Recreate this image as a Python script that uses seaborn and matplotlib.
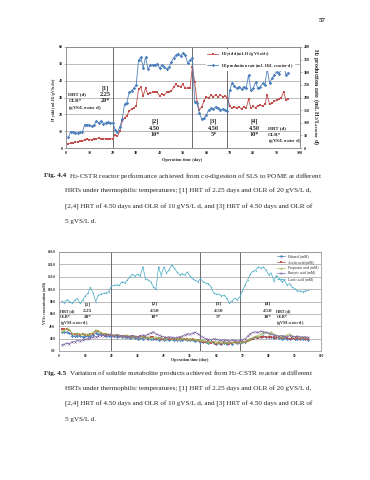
import numpy as np
import pandas as pd
import seaborn as sns
import matplotlib.pyplot as plt
from matplotlib.ticker import FormatStrFormatter

# operation days (one sample per day)
days = list(range(1, 96))

# Fig 4.4 - H2 yield (left axis) and H2 production rate (right axis)
h2_yield = [2.5, 3, 3, 3.5, 3.5, 4, 4, 5, 5.5, 5,
            5, 5.5, 5.5, 6, 5.5, 5.5, 5.5, 5.5, 5.5, 5.5,
            8, 7, 10, 16, 18, 19, 22, 23, 24, 25,
            35, 36, 31, 35.5, 32, 32.5, 33, 33, 33, 31,
            32, 31.5, 33, 33, 34, 36, 37.8, 36.8, 36.5, 37.8,
            35.4, 35.7, 35.7, 48.2,
            39, 27.6, 22.6, 24.6, 28.1, 30.5, 29.5, 31.5, 30.5, 31.5, 30.5, 31.5, 30.5, 30.8, 30.0,
            25, 23.6, 24.6, 23.6, 24.6, 23, 24.6, 23.6, 29, 23.6, 24.8, 23.6, 25.2, 25.5, 24.8, 26,
            31.5, 26, 26.8, 27.8, 28.3, 29, 29.8, 33.5, 28.3, 29]
h2_rate = [42, 65, 63, 60, 60, 63, 63, 93, 93, 90,
           87, 90, 107, 100, 107, 97, 100, 103, 100, 100,
           73, 63, 83, 113, 173, 180, 220, 227, 237, 250,
           347, 360, 317, 360, 313, 327, 330, 330, 333, 317, 327, 320, 313, 320,
           340, 357, 367, 374, 364, 377, 367, 335, 348, 358,
           184, 177, 138, 114, 118, 131, 151, 157, 155, 164, 157, 151, 155, 151, 148,
           230, 258, 245, 236, 243, 232, 243, 236, 289, 230, 236, 262, 236, 243, 256, 249,
           315, 256, 276, 289, 302, 295, 311, 328, 289, 299]

# Fig 4.5 - soluble metabolite products (mM)
ethanol = [30, 31, 30, 29, 25, 24, 25, 24, 23, 24,
           24, 25, 26, 29, 28, 27, 26, 25, 25, 24,
           24, 23, 24, 22, 23, 22, 21, 22, 21, 20,
           21, 20, 22, 19, 20, 19, 20, 18, 19, 18,
           19, 18, 19, 17, 18, 17, 18, 19, 18, 17,
           17, 16, 17, 15, 14, 15, 13, 14, 13, 12,
           13, 12, 13, 12, 13, 12, 14, 13, 13, 14,
           15, 17, 19, 21, 22, 23, 22, 24, 23, 22,
           22, 21, 22, 21, 20, 21, 20, 19, 21, 20,
           20, 19, 20, 19, 18]
acetic = [35, 36, 35, 34, 28, 27, 27, 26, 27, 26,
          26, 27, 28, 32, 33, 29, 27, 27, 26, 26,
          25, 26, 25, 24, 25, 24, 23, 24, 23, 22,
          24, 23, 22, 21, 23, 22, 20, 21, 19, 20,
          21, 20, 19, 20, 19, 21, 20, 19, 20, 18,
          19, 17, 18, 16, 15, 14, 16, 13, 14, 12,
          13, 12, 14, 13, 12, 13, 14, 13, 14, 15,
          14, 16, 18, 20, 22, 21, 23, 22, 23, 22,
          23, 22, 21, 22, 21, 22, 21, 20, 21, 20,
          21, 20, 21, 20, 20]
propionic = [33, 34, 36, 35, 29, 28, 29, 28, 27, 28,
             27, 28, 30, 34, 33, 30, 28, 28, 27, 27,
             26, 27, 26, 24, 25, 26, 24, 23, 24, 23,
             23, 24, 22, 23, 21, 22, 23, 21, 22, 20,
             21, 22, 20, 21, 20, 19, 21, 20, 19, 20,
             20, 19, 18, 17, 17, 16, 15, 16, 15, 15,
             15, 14, 15, 14, 15, 14, 15, 14, 15, 14,
             16, 18, 20, 22, 24, 25, 27, 29, 30, 28,
             31, 27, 25, 24, 23, 24, 26, 28, 24, 23,
             24, 22, 23, 22, 22]
butyric = [10, 11, 13, 12, 15, 15, 17, 16, 18, 19,
           20, 21, 22, 23, 24, 25, 25, 26, 27, 26,
           25, 26, 24, 25, 24, 23, 24, 25, 24, 23,
           24, 26, 25, 27, 29, 31, 28, 26, 24, 23,
           22, 23, 22, 21, 22, 23, 24, 26, 28, 27,
           29, 30, 28, 25, 22, 20, 19, 18, 20, 19,
           18, 17, 18, 17, 16, 18, 17, 16, 17, 18,
           20, 24, 28, 30, 31, 30, 32, 31, 30, 29,
           27, 26, 25, 24, 25, 24, 23, 25, 24, 23,
           24, 23, 22, 23, 22]
lactic = [81, 78, 83, 80, 77, 82, 85, 77, 82, 89,
          93, 103, 94, 80, 90, 92, 93, 94, 96, 105,
          106, 107, 106, 112, 110, 114, 120, 124, 121, 124,
          121, 136, 117, 115, 112, 104, 100, 136, 122, 136,
          126, 131, 139, 134, 128, 123, 125, 123, 128, 121,
          117, 114, 112, 117, 112, 110, 109, 104, 94, 92,
          92, 89, 90, 85, 78, 81, 85, 83, 87, 97,
          106, 115, 124, 129, 130, 136, 134, 136, 131, 123,
          126, 113, 122, 117, 112, 114, 107, 109, 103, 101,
          97, 97, 96, 97, 98]

phase_days = [20, 54, 69]

sns.set_style("white")
plt.rcParams['font.family'] = ['Liberation Serif', 'DejaVu Serif']
plt.rcParams['mathtext.default'] = 'regular'

W, H = 370, 480
fig = plt.figure(figsize=(3.7, 4.8), dpi=100)


def box(x0, y0, x1, y1):
    return [x0 / W, 1 - y1 / H, (x1 - x0) / W, (y1 - y0) / H]


def put(x, y, s, **kw):
    fig.text(x / W, 1 - y / H, s, **kw)


def style_axes(ax, size):
    for sp in ax.spines.values():
        sp.set_color('#8a8a8a')
        sp.set_linewidth(0.5)
    ax.tick_params(labelsize=size, pad=1, length=1.5, width=0.4, color='#8a8a8a')
    for lab in ax.get_xticklabels() + ax.get_yticklabels():
        lab.set_fontweight('bold')


put(322, 21, '57', fontsize=5, fontweight='bold', ha='center', va='center')

# ---------------- Fig 4.4 ----------------
ax1 = fig.add_axes(box(66, 47, 300, 148))
ax2 = ax1.twinx()
sns.lineplot(x=days, y=h2_yield, ax=ax1, color='#C0504D', marker='s', markersize=1.8,
             markeredgewidth=0, linewidth=0.6, legend=False,
             label='H$_2$ yield (mL H$_2$/g VS$_{added}$)')
sns.lineplot(x=days, y=h2_rate, ax=ax2, color='#4F81BD', marker='D', markersize=1.8,
             markeredgewidth=0, linewidth=0.6, legend=False,
             label='H$_2$ production rate (mL H$_2$/L reactor$\\cdot$d)')
handles = [ax1.lines[0], ax2.lines[0]]
for d in phase_days:
    ax1.axvline(d, color='#555555', lw=0.6, zorder=1)
ax1.set_xlim(0, 100)
ax1.set_ylim(0, 60)
ax2.set_ylim(0, 400)
ax1.set_xticks(range(0, 101, 10))
ax1.set_yticks(range(0, 61, 10))
ax2.set_yticks(range(0, 401, 50))
ax1.grid(axis='y', color='#8a8a8a', lw=0.4)
ax1.set_xlabel('')
ax1.set_ylabel('')
ax2.set_ylabel('')
style_axes(ax1, 3)
style_axes(ax2, 3)
leg = ax2.legend(handles=handles, loc='upper left', bbox_to_anchor=(0.59, 1.0), fontsize=3,
                 frameon=True, facecolor='white', edgecolor='none', framealpha=1,
                 handlelength=2.5, labelspacing=0.8, borderpad=0.3)
for t in leg.get_texts():
    t.set_fontweight('bold')

put(182, 160, 'Operation time (day)', fontsize=3.2, fontweight='bold', ha='center', va='center')
put(54, 100, 'H$_2$ yield (mL H$_2$/g VS$_{added}$)', fontsize=2.7, fontweight='bold',
    rotation=90, ha='center', va='center')
put(316, 97, 'H$_2$ production rate (mL H$_2$/L$_{reactor}$ d)', fontsize=4.3, fontweight='bold',
    rotation=270, ha='center', va='center')

ann = dict(fontsize=4.5, fontweight='bold', ha='center', va='center')
for yv, s in zip([35.4, 31.9, 28.1], ['[1]', '2.25', '20*']):
    ax1.text(16.8, yv, s, **ann)
for xd, lines in [(38, ['[2]', '4.50', '10*']), (63, ['[3]', '4.50', '5*']), (80.5, ['[4]', '4.50', '10*'])]:
    for yv, s in zip([16, 11.8, 7.9], lines):
        ax1.text(xd, yv, s, **ann)
lab = dict(fontsize=3.6, fontweight='bold', ha='left', va='center')
for yv, s in zip([31.9, 28.1, 24.0], ['HRT (d)', 'OLR*', '(gVS/L$_{reactor}$ d)']):
    ax1.text(1, yv, s, **lab)
for yv, s in zip([11.8, 7.9, 4.0], ['HRT (d)', 'OLR*', '(gVS/L$_{reactor}$ d)']):
    ax1.text(86.4, yv, s, **lab)

# ---------------- captions ----------------
cap = dict(fontsize=5.1, ha='left', va='center')
rest = ['HRTs under thermophilic temperatures; [1] HRT of 2.25 days and OLR of 20 gVS/L d,',
        '[2,4] HRT of 4.50 days and OLR of 10 gVS/L d, and [3] HRT of 4.50 days and OLR of',
        '5 gVS/L d.']
put(44, 176, 'Fig. 4.4', fontweight='bold', **cap)
put(69, 176, 'H$_2$-CSTR reactor performance achieved from co-digestion of SLS to POME at different', **cap)
for y, s in zip([191, 206.5, 222], rest):
    put(65, y, s, **cap)

put(44, 373, 'Fig. 4.5', fontweight='bold', **cap)
put(69, 373, 'Variation of soluble metabolite products achieved from H$_2$-CSTR reactor at different', **cap)
for y, s in zip([388.5, 404, 419.5], rest):
    put(65, y, s, **cap)

# ---------------- Fig 4.5 ----------------
ax3 = fig.add_axes(box(59, 252, 321, 351))
series = [('Ethanol (mM)', ethanol, '#4F81BD', 'D'),
          ('Acetic acid (mM)', acetic, '#C0504D', 's'),
          ('Propionic acid (mM)', propionic, '#9BBB59', '^'),
          ('Butyric acid (mM)', butyric, '#8064A2', 'x'),
          ('Lactic acid (mM)', lactic, '#4BACC6', '*')]
for name, vals, col, mk in series:
    sns.lineplot(x=days, y=vals, ax=ax3, color=col, marker=mk, markersize=1.6,
                 markeredgewidth=0.3 if mk == 'x' else 0, markeredgecolor=col,
                 linewidth=0.5, legend=False, label=name)
for d in phase_days:
    ax3.axvline(d, color='#555555', lw=0.6, zorder=1)
ax3.set_xlim(0, 100)
ax3.set_ylim(0, 160)
ax3.set_xticks(range(0, 101, 10))
ax3.set_yticks(range(0, 161, 20))
ax3.yaxis.set_major_formatter(FormatStrFormatter('%.1f'))
ax3.grid(axis='y', color='#8a8a8a', lw=0.4)
ax3.set_xlabel('')
ax3.set_ylabel('')
style_axes(ax3, 2.5)
leg3 = ax3.legend(loc='upper right', fontsize=2.6, frameon=False, handlelength=2.2,
                  labelspacing=0.45, borderpad=0.2)

put(190, 360.5, 'Operation time (day)', fontsize=3, fontweight='bold', ha='center', va='center')
put(44, 303, 'VFAs concentration (mM)', fontsize=2.7, fontweight='bold', rotation=90,
    ha='center', va='center')

ann3 = dict(fontsize=3.8, fontweight='bold', ha='center', va='center')
for yv, s in zip([75, 65, 55], ['[1]', '2.25', '20*']):
    ax3.text(11, yv, s, **ann3)
for xd, lines in [(36.6, ['[2]', '4.50', '10*']), (61, ['[3]', '4.50', '5*']), (79.5, ['[4]', '4.50', '10*'])]:
    for yv, s in zip([76, 65, 55], lines):
        ax3.text(xd, yv, s, **ann3)
lab3 = dict(fontsize=3, fontweight='bold', ha='left', va='center')
for yv, s in zip([65, 55, 46], ['HRT (d)', 'OLR*', '(gVS/L$_{reactor}$ d)']):
    ax3.text(0.3, yv, s, **lab3)
    ax3.text(83, yv, s, **lab3)

fig.savefig('out.png', dpi=100)
